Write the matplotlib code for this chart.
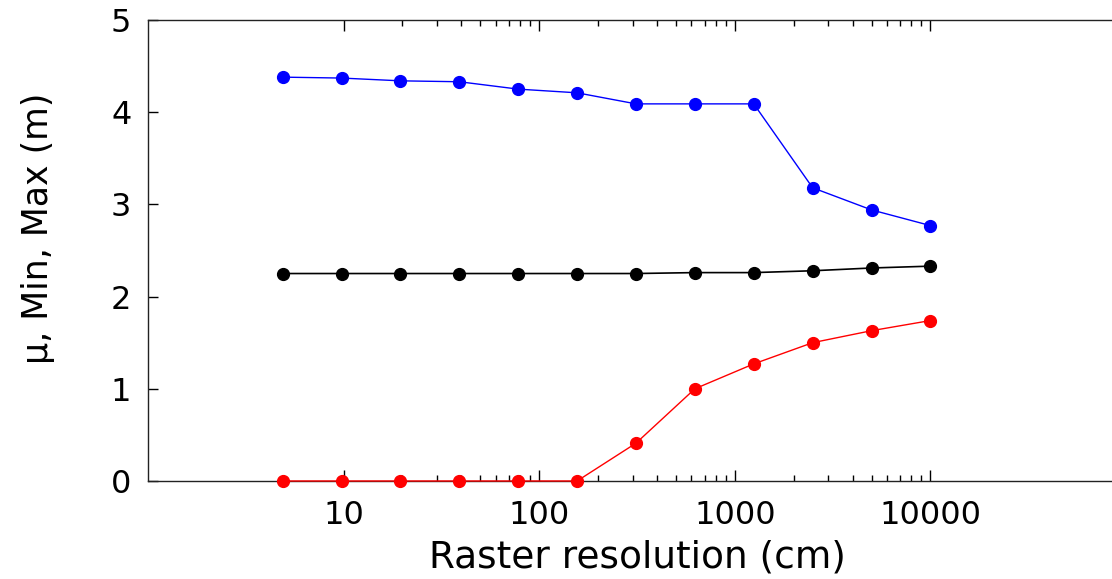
import matplotlib
matplotlib.use('Agg')
import matplotlib.pyplot as plt
import numpy as np

# 数据
resolution = [4.883, 9.766, 19.53, 39.06, 78.13, 156.25, 312.5, 625, 1250, 2500, 5000, 10000]
max_vals = [4.38, 4.37, 4.34, 4.33, 4.25, 4.21, 4.09, 4.09, 4.09, 3.18, 2.94, 2.77]
mean_vals = [2.25, 2.25, 2.25, 2.25, 2.25, 2.25, 2.25, 2.26, 2.26, 2.28, 2.31, 2.33]
min_vals = [0.0, 0.0, 0.0, 0.0, 0.0, 0.0, 0.41, 1.00, 1.27, 1.50, 1.63, 1.74]

x_major = [10, 100, 1000, 10000]
x_minor = [m * 10 ** k for k in range(1, 4) for m in range(2, 10)]

plt.rcParams['font.family'] = ['DejaVu Sans']

fig = plt.figure(figsize=(11.12, 5.79), dpi=100)
ax = fig.add_axes([0.1331, 0.1693, 0.8795, 0.7962])

ax.plot(resolution, max_vals, color='#0000ff', lw=1.0, marker='o', ms=8.5, clip_on=False, zorder=3)
ax.plot(resolution, mean_vals, color='black', lw=1.2, marker='o', ms=8.5, clip_on=False, zorder=3)
ax.plot(resolution, min_vals, color='#ff0000', lw=1.0, marker='o', ms=8.5, clip_on=False, zorder=3)

ax.set_xscale('log')
ax.set_xlim(1, 100000)
ax.set_ylim(0, 5)
ax.set_xticks(x_major)
ax.set_xticklabels([str(v) for v in x_major])
ax.set_xticks(x_minor, minor=True)
ax.set_yticks([0, 1, 2, 3, 4, 5])

ax.spines['right'].set_visible(False)
for s in ['left', 'bottom', 'top']:
    ax.spines[s].set_linewidth(1.0)
    ax.spines[s].set_color('#222222')

ax.tick_params(axis='x', which='major', direction='in', length=8, width=1, top=True,
               labelsize=23, pad=14)
ax.tick_params(axis='x', which='minor', direction='in', length=4, width=1, top=True)
ax.tick_params(axis='y', which='major', direction='in', length=7, width=1, right=False,
               labelsize=23, pad=12)

ax.set_xlabel('Raster resolution (cm)', fontsize=27, labelpad=6)
ax.set_ylabel('μ, Min, Max (m)', fontsize=25)
ax.yaxis.set_label_coords(-0.095, 0.549)

plt.savefig('out.png', dpi=100, facecolor='white')
plt.close()
